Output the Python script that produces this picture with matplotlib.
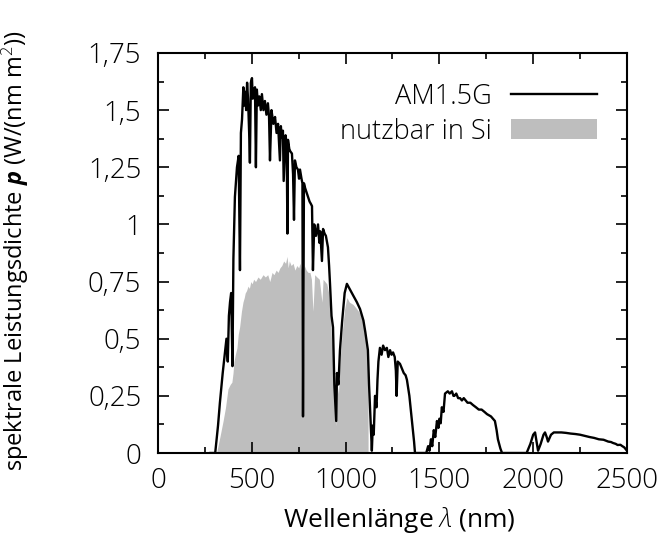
import matplotlib
matplotlib.use('Agg')
import matplotlib.pyplot as plt
from matplotlib.ticker import MultipleLocator

plt.rcParams['font.family'] = ['Open Sans', 'DejaVu Sans']
plt.rcParams['font.weight'] = 'light'
plt.rcParams['mathtext.fontset'] = 'custom'
plt.rcParams['mathtext.rm'] = 'Open Sans'
plt.rcParams['mathtext.it'] = 'Open Sans:italic'
plt.rcParams['mathtext.bf'] = 'Open Sans:italic:bold'

# AM1.5G spectrum (nm, W/(nm m^2))
wl_am = [280, 305, 320, 330, 345, 357, 365, 372, 378, 384, 390, 397, 402, 410,
         421, 430, 437, 442, 448, 455, 460, 465, 470, 475, 480, 486, 490, 495,
         501, 505, 510, 517, 522, 527, 533, 540, 548, 554, 562, 570, 578, 586,
         592, 597, 605, 615, 624, 632, 640, 650, 655, 660, 666, 670, 680, 686,
         690, 693, 700, 705, 714, 720, 725, 730, 738, 746, 752, 757, 765, 770,
         773, 778, 784, 792, 800, 808, 815, 821, 826, 833, 842, 853, 860, 865,
         874, 880, 888, 895, 906, 912, 917, 925, 933, 940, 950, 954, 962, 970,
         981, 995, 1007, 1020, 1040, 1060, 1077, 1095, 1105, 1119, 1125, 1135,
         1140, 1145, 1150, 1157, 1165, 1170, 1175, 1183, 1192, 1200, 1210, 1220,
         1228, 1237, 1245, 1253, 1262, 1268, 1272, 1278, 1290, 1300, 1310, 1320,
         1327, 1340, 1354, 1365, 1370, 1430, 1440, 1447, 1455, 1462, 1470, 1478,
         1487, 1495, 1500, 1507, 1513, 1522, 1530, 1545, 1555, 1567, 1575, 1580,
         1590, 1600, 1610, 1620, 1630, 1650, 1665, 1679, 1695, 1710, 1725, 1740,
         1754, 1775, 1796, 1805, 1812, 1825, 1834, 1965, 1985, 2000, 2010, 2020,
         2026, 2040, 2055, 2063, 2072, 2079, 2095, 2110, 2127, 2150, 2175, 2200,
         2225, 2250, 2275, 2300, 2325, 2350, 2375, 2400, 2415, 2425, 2440, 2450,
         2465, 2475, 2485, 2490, 2500]
p_am = [0.0, 0.0, 0.12, 0.22, 0.35, 0.44, 0.50, 0.40, 0.60, 0.66, 0.70, 0.38, 0.85, 1.12,
        1.25, 1.30, 0.80, 1.40, 1.46, 1.60, 1.52, 1.58, 1.50, 1.62, 1.55, 1.40, 1.27, 1.62,
        1.64, 1.55, 1.58, 1.60, 1.25, 1.59, 1.52, 1.56, 1.50, 1.57, 1.50, 1.54, 1.48, 1.53,
        1.47, 1.28, 1.50, 1.44, 1.47, 1.40, 1.44, 1.28, 1.43, 1.38, 1.41, 1.19, 1.39, 1.35,
        0.96, 1.37, 1.33, 1.32, 1.31, 1.22, 1.02, 1.28, 1.25, 1.24, 1.20, 1.24, 1.20, 1.18,
        0.16, 1.18, 1.16, 1.14, 1.12, 1.10, 1.09, 1.08, 0.80, 1.00, 0.95, 1.00, 0.92, 0.97,
        0.84, 0.98, 0.96, 0.95, 0.90, 0.82, 0.74, 0.60, 0.55, 0.30, 0.14, 0.35, 0.30, 0.45,
        0.57, 0.70, 0.74, 0.72, 0.69, 0.66, 0.63, 0.58, 0.53, 0.45, 0.30, 0.10,
        0.01, 0.12, 0.08, 0.25, 0.20, 0.32, 0.40, 0.46, 0.43, 0.47, 0.45, 0.46,
        0.42, 0.45, 0.43, 0.44, 0.42, 0.36, 0.25, 0.40, 0.39, 0.37, 0.35, 0.34,
        0.32, 0.25, 0.14, 0.05, 0.0, 0.0, 0.03, 0.01, 0.06, 0.03, 0.10, 0.07,
        0.14, 0.11, 0.15, 0.13, 0.20, 0.18, 0.26, 0.27, 0.26, 0.27, 0.25, 0.25,
        0.26, 0.24, 0.24, 0.23, 0.24, 0.22, 0.22, 0.21, 0.20, 0.19, 0.19, 0.18,
        0.17, 0.16, 0.14, 0.10, 0.06, 0.02, 0.0, 0.0, 0.04, 0.08, 0.09, 0.04,
        0.01, 0.04, 0.08, 0.09, 0.07, 0.05, 0.08, 0.09, 0.09, 0.09, 0.088, 0.085,
        0.083, 0.08, 0.075, 0.07, 0.066, 0.06, 0.058, 0.05, 0.048, 0.044, 0.040, 0.035,
        0.036, 0.03, 0.025, 0.02, 0.01]

# part usable in silicon (grey area)
wl_si = [312, 330, 347, 360, 373, 385, 394, 400, 405, 412, 421, 428, 435, 445,
         453, 460, 465, 472, 480, 487, 495, 502, 510, 520, 533, 545, 560, 572,
         585, 596, 608, 618, 630, 640, 650, 660, 670, 680, 688, 694, 700, 710,
         720, 730, 740, 750, 757, 765, 773, 780, 790, 800, 810, 818, 826, 835,
         847, 860, 874, 880, 890, 900, 910, 917, 925, 933, 940, 950, 954, 962,
         970, 981, 995, 1007, 1020, 1040, 1060, 1077, 1095, 1105, 1119, 1120]
p_si = [0.0, 0.07, 0.14, 0.20, 0.28, 0.30, 0.31, 0.35, 0.40, 0.43, 0.46, 0.52, 0.55, 0.62,
        0.66, 0.68, 0.70, 0.71, 0.73, 0.72, 0.75, 0.74, 0.76, 0.75, 0.77, 0.76, 0.78, 0.77,
        0.78, 0.75, 0.79, 0.78, 0.80, 0.79, 0.81, 0.82, 0.84, 0.83, 0.86, 0.81, 0.84, 0.82,
        0.83, 0.80, 0.82, 0.81, 0.83, 0.80, 0.14, 0.82, 0.80, 0.79, 0.79, 0.76, 0.62, 0.78,
        0.77, 0.76, 0.66, 0.76, 0.75, 0.74, 0.70, 0.62, 0.50, 0.46, 0.25, 0.12, 0.30, 0.26,
        0.40, 0.52, 0.63, 0.68, 0.66, 0.65, 0.63, 0.61, 0.57, 0.53, 0.45, 0.0]

ytick_vals = [0, 0.25, 0.5, 0.75, 1, 1.25, 1.5, 1.75]
ytick_labels = ['0', '0,25', '0,5', '0,75', '1', '1,25', '1,5', '1,75']
xtick_vals = [0, 500, 1000, 1500, 2000, 2500]

fig = plt.figure(figsize=(6.7, 5.4), dpi=100)
ax = fig.add_axes([0.2358, 0.1611, 0.70, 0.7408])

ax.fill_between(wl_si, p_si, 0, color='#bebebe', linewidth=0, label='nutzbar in Si')
ax.plot(wl_am, p_am, color='black', linewidth=1.7, label='AM1.5G')

ax.set_xlim(0, 2500)
ax.set_ylim(0, 1.75)
ax.set_xticks(xtick_vals)
ax.set_yticks(ytick_vals)
ax.set_yticklabels(ytick_labels)
ax.xaxis.set_minor_locator(MultipleLocator(250))
ax.yaxis.set_minor_locator(MultipleLocator(0.125))
ax.tick_params(which='both', direction='in', top=True, right=True, labelsize=20, width=1.2)
ax.tick_params(which='major', length=8)
ax.tick_params(axis='y', which='major', pad=12)
ax.tick_params(axis='x', which='major', pad=10)
ax.tick_params(which='minor', length=4)
for s in ax.spines.values():
    s.set_linewidth(1.5)

ax.set_xlabel(r'Wellenlänge $\lambda$ (nm)', fontsize=19)
ax.xaxis.set_label_coords(0.515, -0.13)
ax.set_ylabel(r'spektrale Leistungsdichte $\mathbf{p}$ (W/(nm m$^2$))', fontsize=17)
ax.yaxis.set_label_coords(-0.27, 0.505)

handles, labels = ax.get_legend_handles_labels()
ax.legend(handles[::-1], labels[::-1], loc='upper right', frameon=False, markerfirst=False,
          fontsize=19.5, handlelength=3.2, handleheight=0.8, handletextpad=0.7,
          labelspacing=0.25, borderpad=1.1, borderaxespad=0)

plt.savefig('out.png', dpi=100)
